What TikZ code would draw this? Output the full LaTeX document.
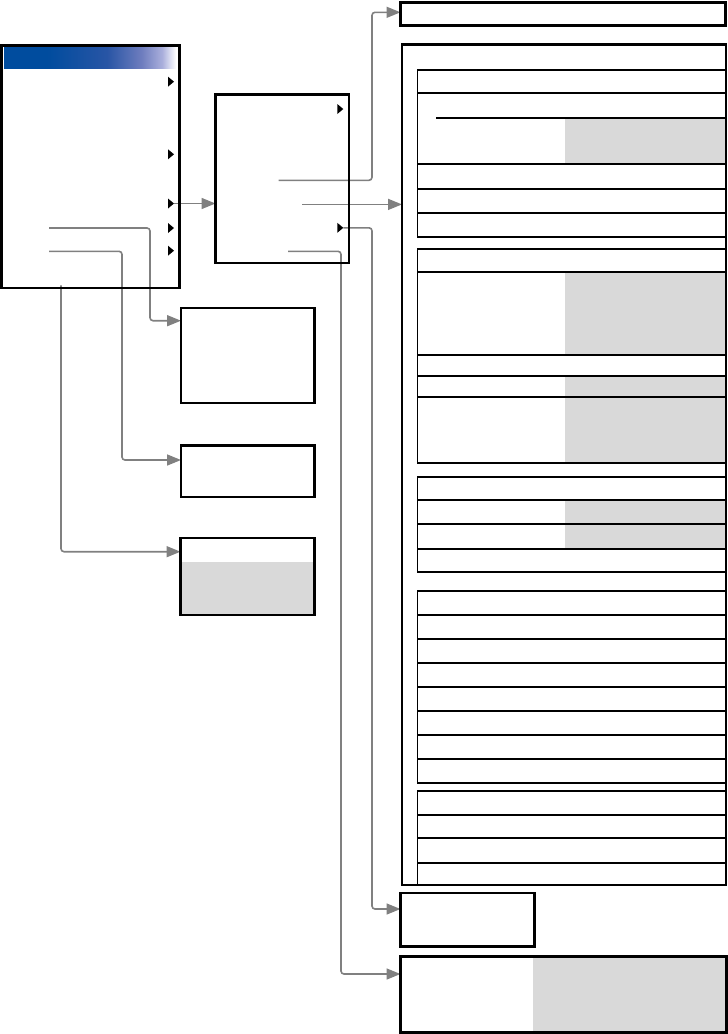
\documentclass[tikz,border=0pt]{standalone}
\usetikzlibrary{arrows.meta}
\definecolor{menublue}{RGB}{0,76,158}
\definecolor{menumid}{RGB}{40,85,165}
\definecolor{menulight}{RGB}{110,125,190}
\definecolor{menupale}{RGB}{170,175,220}
\definecolor{cellgray}{RGB}{217,217,217}
\definecolor{linkgray}{RGB}{128,128,128}
\pgfdeclarehorizontalshading{titlebar}{100bp}{color(0bp)=(menublue); color(37.5bp)=(menublue); color(55bp)=(menumid); color(65bp)=(menulight); color(71bp)=(menupale); color(75bp)=(white); color(100bp)=(white)}
\pgfdeclarelayer{bg}
\pgfsetlayers{bg,main}
\tikzset{
  frame/.style={draw=black, line width=2.5pt, inner sep=0pt, outer sep=0pt, anchor=north west},
  tabline/.style={draw=black, line width=1.1pt},
  link/.style={draw=linkgray, line width=1.6pt, rounded corners=3pt, -{Triangle[length=14pt,width=11pt]}},
  flag/.pic={\fill[black] (-6,-5) -- (0,0) -- (-6,5) -- cycle;}
}
\begin{document}
\begin{tikzpicture}[x=1pt,y=-1pt]
\useasboundingbox (0,0) rectangle (728,1034);

% ---- gray cell fills (under frames)
\fill[cellgray] (180.5,562) rectangle (314.3,614.8);
\fill[cellgray] (533,956.3) rectangle (726.5,1032.5);
\fill[cellgray] (565,118) rectangle (726,164);
\fill[cellgray] (565,272) rectangle (726,355);
\fill[cellgray] (565,376) rectangle (726,463);
\fill[cellgray] (565,500) rectangle (726,549);

% ---- menu title bar
\shade[shading=titlebar] (4,47) rectangle (176,68);

% ---- frames
\node[frame, minimum width=177.8pt, minimum height=242.5pt] (menu) at (1.5,45.5) {};
\node[frame, minimum width=133.3pt, minimum height=168.3pt] (sub) at (215.5,94.7) {};
\node[frame, minimum width=133.7pt, minimum height=95.2pt] (boxA) at (181,307.8) {};
\node[frame, minimum width=133.7pt, minimum height=51.5pt] (boxB) at (181,445.5) {};
\node[frame, minimum width=133.8pt, minimum height=77pt] (boxC) at (180.5,537.8) {};
\node[frame, minimum width=325pt, minimum height=23.2pt] (topbox) at (400.5,2.3) {};
\node[frame, minimum width=324pt, minimum height=840.5pt] (big) at (402,44.5) {};
\node[frame, minimum width=133.8pt, minimum height=53.7pt] (boxD) at (400.5,893) {};
\node[frame, minimum width=326pt, minimum height=76.2pt] (boxE) at (400.5,956.3) {};

% ---- tables inside the big frame
\draw[tabline] (417.5,70) rectangle (726,237);
\foreach \yy in {93,164,189,213} \draw[tabline] (417.5,\yy) -- (726,\yy);
\draw[tabline] (436,118) -- (726,118);

\draw[tabline] (417.5,249) rectangle (726,463);
\foreach \yy in {272,355,376,397} \draw[tabline] (417.5,\yy) -- (726,\yy);

\draw[tabline] (417.5,477) rectangle (726,572);
\foreach \yy in {500,524,549} \draw[tabline] (417.5,\yy) -- (726,\yy);

\draw[tabline] (417.5,591) rectangle (726,783);
\foreach \yy in {615,639,663,687,711,735,759} \draw[tabline] (417.5,\yy) -- (726,\yy);

\draw[tabline] (726,791) -- (417.5,791) -- (417.5,885);
\foreach \yy in {815,838,863} \draw[tabline] (417.5,\yy) -- (726,\yy);

% ---- submenu markers
\coordinate (lf1) at (174,81.7);
\coordinate (lf2) at (174,154.3);
\coordinate (lf3) at (174,203.5);
\coordinate (lf4) at (174,228);
\coordinate (lf5) at (174,250.7);
\coordinate (sf1) at (343.3,109);
\coordinate (sf2) at (343.3,227.8);
\foreach \f in {lf1,lf2,lf3,lf4,lf5,sf1,sf2} \pic at (\f) {flag};

% ---- connector start points
\coordinate (s2) at (278.5,180.3);
\coordinate (s3) at (302,204.4);
\coordinate (s4) at (49,228);
\coordinate (s5) at (49,251.3);
\coordinate (s6) at (61,285.3);
\coordinate (s8) at (288,251.3);

% ---- connectors
\begin{pgfonlayer}{bg}
\draw[link] (lf3) -- (sub.west |- lf3);
\draw[link] (s2) -| (372,12.3) -- (topbox.west |- 0,12.3);
\draw[link] (s3) -- (big.west |- s3);
\draw[link] (s4) -| (150,320.7) -- (boxA.west |- 0,320.7);
\draw[link] (s5) -| (122,460) -- (boxB.west |- 0,460);
\draw[link] (s6) |- (boxC.west |- 0,551.7);
\draw[link] (sf2) -| (372,909) -- (boxD.west |- 0,909);
\draw[link] (s8) -| (341,974) -- (boxE.west |- 0,974);
\end{pgfonlayer}
\end{tikzpicture}
\end{document}
